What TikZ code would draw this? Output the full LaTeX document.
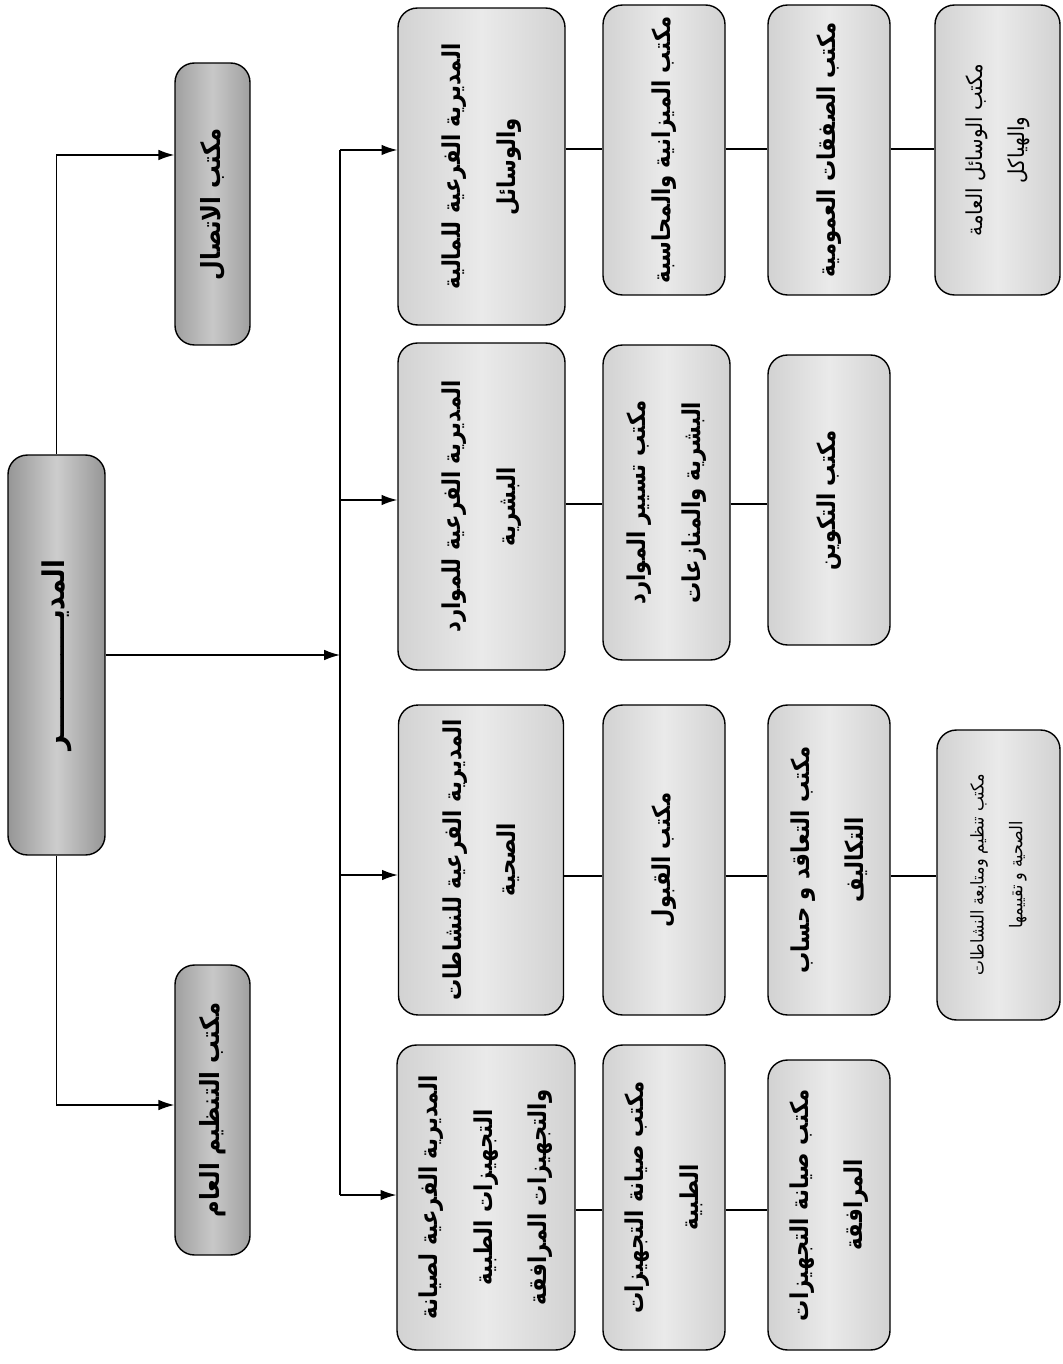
\documentclass[tikz,border=0pt]{standalone}
\usepackage{fontspec}
\newfontfamily\arabicfont[Script=Arabic,FakeStretch=0.86]{DejaVu Sans}
\newfontfamily\arabicthin[Script=Arabic,FakeStretch=0.9]{DejaVu Sans}
\TeXXeTstate=1
\usetikzlibrary{arrows.meta}
\newcommand{\ar}[1]{\beginR #1\endR}
\definecolor{dgEdge}{RGB}{150,150,150}
\definecolor{dgMid}{RGB}{205,205,205}
\definecolor{sgEdge}{RGB}{160,160,160}
\definecolor{sgMid}{RGB}{200,200,200}
\definecolor{lgEdge}{RGB}{210,210,210}
\definecolor{lgMid}{RGB}{234,234,234}
\begin{document}
\begin{tikzpicture}[x=0.02cm,y=-0.02cm,
  box/.style={draw=black, line width=0.8pt, rounded corners=11pt, rotate=90,
    align=center, inner sep=0pt, font=\arabicfont\bfseries\fontsize{14}{31}\selectfont},
  darkbox/.style={box, left color=dgEdge, right color=dgEdge, middle color=dgMid},
  sidebox/.style={box, left color=sgEdge, right color=sgEdge, middle color=sgMid},
  lightbox/.style={box, left color=lgEdge, right color=lgEdge, middle color=lgMid},
  conn/.style={line width=0.8pt},
  arr/.style={conn, -{Latex[length=9pt,width=6pt]}},
]
\useasboundingbox (0,0) rectangle (1062,1364);
\fill[white] (0,0) rectangle (1062,1364);

% level coordinates
\coordinate (ya) at (0,155);
\coordinate (yb) at (0,1105);
\coordinate (busx) at (340,0);
\coordinate (y1) at (0,150);
\coordinate (y2) at (0,500);
\coordinate (y3) at (0,875);
\coordinate (y4) at (0,1195);
\coordinate (l1) at (0,149);
\coordinate (l2) at (0,504);
\coordinate (l3) at (0,876);
\coordinate (l4) at (0,1210);

% director and staff offices
\node[darkbox, minimum width=8cm, minimum height=1.94cm, font=\arabicfont\bfseries\fontsize{17}{30}\selectfont] (dir) at (56.5,655) {\ar{المديـــــــــــــر}};
\node[sidebox, minimum width=5.64cm, minimum height=1.5cm, font=\arabicfont\bfseries\fontsize{15}{30}\selectfont] (ittisal) at (212.5,204) {\ar{مكتب الاتصال}};
\node[sidebox, minimum width=5.8cm, minimum height=1.5cm, font=\arabicfont\bfseries\fontsize{15}{30}\selectfont] (tanzim) at (212.5,1110) {\ar{مكتب التنظيم العام}};

% sub-directorates
\node[lightbox, minimum width=6.34cm, minimum height=3.34cm] (mal) at (481.5,166.5) {\ar{المديرية الفرعية للمالية}\\\ar{والوسائل}};
\node[lightbox, minimum width=6.54cm, minimum height=3.34cm] (mawarid) at (481.5,506.5) {\ar{المديرية الفرعية للموارد}\\\ar{البشرية}};
\node[lightbox, minimum width=6.2cm, minimum height=3.3cm] (nash) at (481,860) {\ar{المديرية الفرعية للنشاطات}\\\ar{الصحية}};
\node[lightbox, minimum width=6.1cm, minimum height=3.56cm] (siyana) at (486,1197.5) {\ar{المديرية الفرعية لصيانة}\\\ar{التجهيزات الطبية}\\\ar{والتجهيزات المرافقة}};

% second column
\node[lightbox, minimum width=5.8cm, minimum height=2.44cm] (miz) at (664,150) {\ar{مكتب الميزانية والمحاسبة}};
\node[lightbox, minimum width=6.3cm, minimum height=2.54cm] (tasyir) at (666.5,502.5) {\ar{مكتب تسيير الموارد}\\\ar{البشرية والمنازعات}};
\node[lightbox, minimum width=6.2cm, minimum height=2.44cm] (qubul) at (664,860) {\ar{مكتب القبول}};
\node[lightbox, minimum width=6.1cm, minimum height=2.44cm] (siyanaT) at (664,1197.5) {\ar{مكتب صيانة التجهيزات}\\\ar{الطبية}};

% third column
\node[lightbox, minimum width=5.8cm, minimum height=2.44cm] (safaqat) at (829,150) {\ar{مكتب الصفقات العمومية}};
\node[lightbox, minimum width=5.8cm, minimum height=2.44cm] (takwin) at (829,500) {\ar{مكتب التكوين}};
\node[lightbox, minimum width=6.2cm, minimum height=2.44cm] (taaqud) at (829,860) {\ar{مكتب التعاقد و حساب}\\\ar{التكاليف}};
\node[lightbox, minimum width=5.8cm, minimum height=2.44cm] (siyanaM) at (829,1205) {\ar{مكتب صيانة التجهيزات}\\\ar{المرافقة}};

% fourth column
\node[lightbox, minimum width=5.8cm, minimum height=2.5cm, font=\arabicthin\fontsize{12.5}{24}\selectfont] (wasail) at (997.5,150) {\ar{مكتب الوسائل العامة}\\\ar{والهياكل}};
\node[lightbox, minimum width=5.8cm, minimum height=2.46cm, font=\arabicthin\fontsize{10}{22}\selectfont] (tanzimN) at (998.5,875) {\ar{مكتب تنظيم ومتابعة النشاطات}\\\ar{الصحية و تقييمها}};

% director connectors
\draw[arr] (dir.east) |- (ittisal.north |- ya);
\draw[arr] (dir.west) |- (tanzim.north |- yb);
\draw[arr] (dir.south) -- (dir.south -| busx);
\draw[conn] (busx |- y1) -- (busx |- y4);
\draw[arr] (busx |- y1) -- (mal.north |- y1);
\draw[arr] (busx |- y2) -- (mawarid.north |- y2);
\draw[arr] (busx |- y3) -- (nash.north |- y3);
\draw[arr] (busx |- y4) -- (siyana.north |- y4);

% chains
\draw[conn] (mal.south |- l1) -- (miz.north |- l1);
\draw[conn] (miz.south |- l1) -- (safaqat.north |- l1);
\draw[conn] (safaqat.south |- l1) -- (wasail.north |- l1);
\draw[conn] (mawarid.south |- l2) -- (tasyir.north |- l2);
\draw[conn] (tasyir.south |- l2) -- (takwin.north |- l2);
\draw[conn] (nash.south |- l3) -- (qubul.north |- l3);
\draw[conn] (qubul.south |- l3) -- (taaqud.north |- l3);
\draw[conn] (taaqud.south |- l3) -- (tanzimN.north |- l3);
\draw[conn] (siyana.south |- l4) -- (siyanaT.north |- l4);
\draw[conn] (siyanaT.south |- l4) -- (siyanaM.north |- l4);
\end{tikzpicture}
\end{document}
